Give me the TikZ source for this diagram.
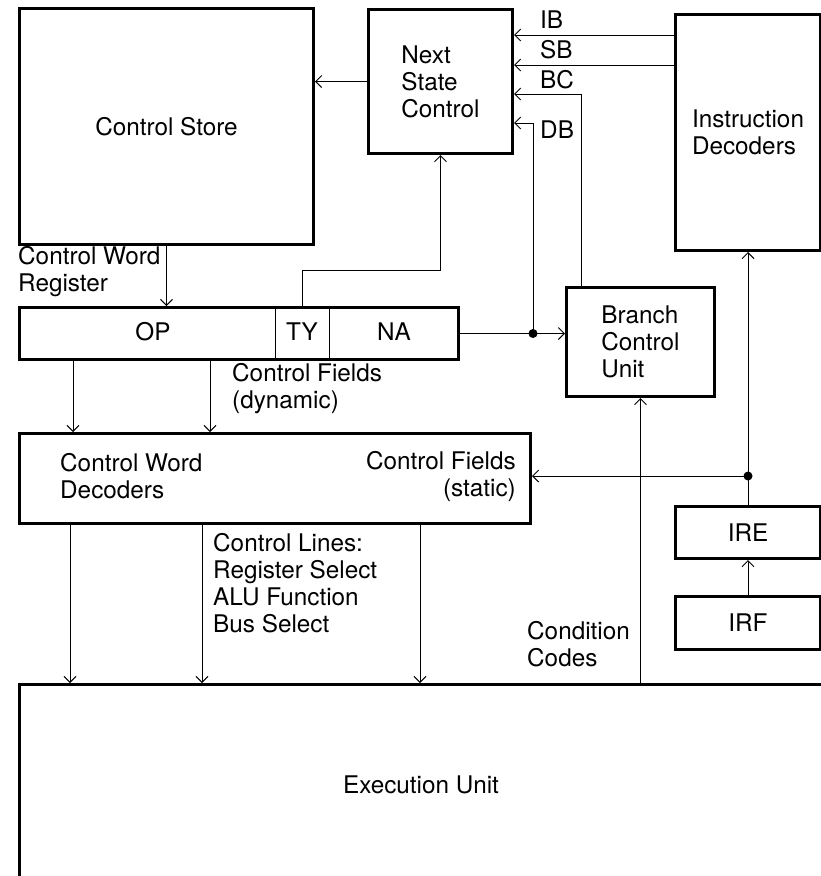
\documentclass[tikz,border=0pt]{standalone}
\usepackage{fontspec}
\setmainfont{TeX Gyre Heros}
\usetikzlibrary{arrows.meta}

\begin{document}
\begin{tikzpicture}[
		x=1pt, y=-1pt,
		font=\fontsize{24.3}{27}\selectfont,
		box/.style={draw, line width=3pt, rectangle, inner sep=0pt, anchor=north west},
		line/.style={black, line width=1pt},
		arrow/.style={line, -{Straight Barb[length=6pt,width=12pt]}},
		dot/.style={circle, fill=black, minimum size=9pt, inner sep=0pt},
		lbl/.style={inner sep=0pt, align=left}
		]
		
		\clip (0,0) rectangle (821,876);
		
		% 方框
		\node[box, minimum width=294pt, minimum height=236pt] (cs) at (18,7) {Control Store};
		\node[box, minimum width=144pt, minimum height=144pt, align=left] (nsc) at (367,8) {Next\\State\\Control};
		\node[box, minimum width=145pt, minimum height=236pt, align=left] (id) at (674,13) {Instruction\\Decoders};
		\node[box, minimum width=439pt, minimum height=52pt] (reg) at (18,306) {};
		\node[box, minimum width=148pt, minimum height=109pt, align=left] (bcu) at (565,286) {Branch\\Control\\Unit};
		\node[box, minimum width=511pt, minimum height=90pt] (cwd) at (18,432) {};
		\node[box, minimum width=145pt, minimum height=52pt] (ire) at (674,505) {IRE};
		\node[box, minimum width=145pt, minimum height=53pt] (irf) at (674,595) {IRF};
		\node[box, minimum width=803pt, minimum height=200pt] (eu) at (18,683) {Execution Unit};
		
		% 寄存器字段
		\foreach \x in {275,329}
			\draw[line] (\x,0 |- reg.north) -- (\x,0 |- reg.south);
		\node[lbl] (op) at (153,332) {OP};
		\node[lbl] (ty) at (302,332) {TY};
		\node[lbl] (na) at (394,332) {NA};
		
		% 译码器内文字
		\node[lbl, anchor=west] (cwdt) at (60,476) {Control Word\\Decoders};
		\node[lbl, anchor=east, align=right] (cfs) at (516,476) {Control Fields\\(static)};
		
		% 连线高度
		\coordinate (yib) at (0,35);
		\coordinate (ysb) at (0,65);
		\coordinate (ybc) at (0,94);
		\coordinate (ydb) at (0,123);
		
		% 节点（黑点）
		\node[dot] (jna) at (533,0 |- reg.east) {};
		\node[dot] (jir) at (ire.north |- 0,476) {};
		
		% 连线
		\draw[arrow] (nsc.west) -- (nsc.west -| cs.east);
		\draw[arrow] (id.west |- yib) -- (nsc.east |- yib);
		\draw[arrow] (id.west |- ysb) -- (nsc.east |- ysb);
		\draw[arrow] ([xshift=16pt]bcu.north west) |- (nsc.east |- ybc);
		\draw[arrow] (jna.center) |- (nsc.east |- ydb);
		\draw[arrow] (reg.east) -- (reg.east -| bcu.west);
		\draw[arrow] (cs.south) -- (cs.south |- reg.north);
		\draw[arrow] (ty |- reg.north) -- ++(0,-36) -| (nsc.south);
		\foreach \x in {73,210}
			\draw[arrow] (\x,0 |- reg.south) -- (\x,0 |- cwd.north);
		\foreach \x in {70,202,420}
			\draw[arrow] (\x,0 |- cwd.south) -- (\x,0 |- eu.north);
		\draw[arrow] (jir.center) -- (jir -| cwd.east);
		\draw[arrow] (ire.north) -- (ire.north |- id.south);
		\draw[arrow] (irf.north) -- (ire.south);
		\draw[arrow] (eu.north -| bcu.south) -- (bcu.south);
		
		% 文字标注
		\node[lbl, anchor=west] (ib) at (540,20) {IB};
		\node[lbl, anchor=west] (sb) at (540,50) {SB};
		\node[lbl, anchor=west] (bc) at (540,80) {BC};
		\node[lbl, anchor=west] (db) at (540,130) {DB};
		\node[lbl, anchor=west] (cwr) at (18,272) {Control Word\\Register};
		\node[lbl, anchor=west] (cfd) at (232,389) {Control Fields\\(dynamic)};
		\node[lbl, anchor=west] (cl) at (213,583) {Control Lines:\\Register Select\\ALU Function\\Bus Select};
		\node[lbl, anchor=west] (cc) at (527,644) {Condition\\Codes};
		
	\end{tikzpicture}
\end{document}
